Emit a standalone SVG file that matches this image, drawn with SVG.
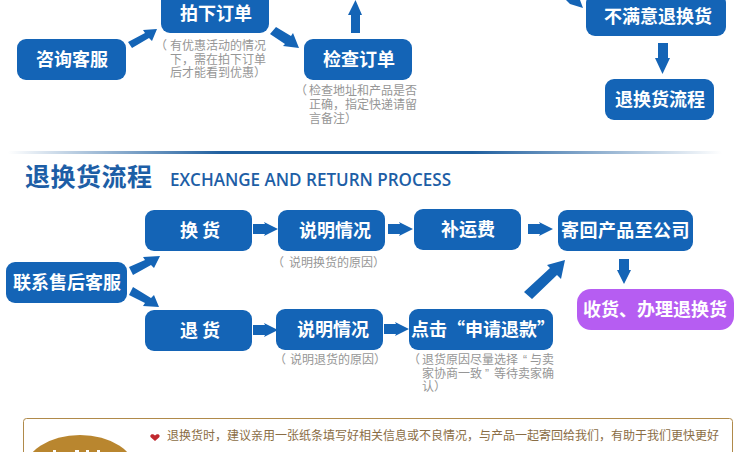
<svg xmlns="http://www.w3.org/2000/svg" width="750" height="452" viewBox="0 0 750 452">
<style>
.n{fill:#1464b6}
.t{font-family:"Noto Sans CJK SC","Liberation Sans",sans-serif;font-weight:700;font-size:18px;fill:#fff;text-anchor:middle}
.s{font-family:"Liberation Sans","Noto Sans CJK SC",sans-serif;font-size:12px;fill:#969696}
.a{fill:#1464b6}
</style>
<defs>
<linearGradient id="g" x1="0" x2="1" y1="0" y2="0">
<stop offset="0" stop-color="#1f5f9f" stop-opacity="0"/><stop offset=".3" stop-color="#1f5f9f"/><stop offset=".65" stop-color="#1f5f9f"/><stop offset="1" stop-color="#1f5f9f" stop-opacity="0"/>
</linearGradient>
<polygon id="ar" points="0,-5 12,-5 11,-7 25,0 11,7 12,5 0,5"/>
</defs>
<rect width="750" height="452" fill="#fff"/>
<rect x="8" y="151" width="714" height="3" fill="url(#g)"/>
<text x="25" y="186" font-family="Noto Sans CJK SC,sans-serif" font-weight="700" font-size="25" fill="#1d5ea6" textLength="127">退换货流程</text>
<text x="170" y="186" font-family="Open Sans,Liberation Sans,sans-serif" font-weight="600" font-size="18" fill="#1d5ea6" textLength="281" lengthAdjust="spacingAndGlyphs">EXCHANGE AND RETURN PROCESS</text>
<g id="connectors" class="a">
<polygon points="128,42 145,33 143,30 157,29 152,41 149,38 132,48"/>
<polygon points="270,34 285,44 283,46 299,48 293,33 291,36 276,27"/>
<polygon points="351,33 360,33 360,15 362,15 355.500,0 348,15 351,15"/>
<polygon points="566,0 580,0 583,8 570,4"/>
<polygon points="658,43 668,43 668,58 670,58 662.500,74 655,58 658,58"/>
<use href="#ar" x="253" y="229"/>
<use href="#ar" x="388" y="229"/>
<use href="#ar" x="528" y="229"/>
<polygon points="129,267 145,260 143,257 160,256 154,268 151,265 133,275"/>
<polygon points="129,295 145,303 143,306 159,307 154,295 151,298 133,287"/>
<use href="#ar" x="253" y="330"/>
<use href="#ar" x="384" y="329"/>
<polygon points="524,292 550,268 547,265 565,260 561,279 557,275 532,299"/>
<polygon points="619,259 629,259 629,270 631,270 624,284 617,270 619,270"/>
</g>
<g id="zixun"><rect class="n" x="17" y="39" width="109" height="41" rx="9"/><text class="t" x="72" y="66">咨询客服</text></g>
<g id="paixia"><rect class="n" x="161" y="-10" width="108" height="43" rx="9"/><text class="t" x="216" y="20">拍下订单</text></g>
<g id="jiancha"><rect class="n" x="304" y="39" width="108" height="41" rx="9"/><text class="t" x="359" y="66">检查订单</text></g>
<g id="bumanyi"><rect class="n" x="586" y="-6" width="140" height="42" rx="9"/><text class="t" x="658" y="23">不满意退换货</text></g>
<g id="liucheng1"><rect class="n" x="605" y="79" width="109" height="41" rx="9"/><text class="t" x="660" y="106">退换货流程</text></g>
<g id="lianxi"><rect class="n" x="6" y="262" width="121" height="41" rx="9"/><text class="t" x="67" y="289">联系售后客服</text></g>
<g id="huanhuo"><rect class="n" x="145" y="210" width="107" height="41" rx="9"/><text class="t" x="200" y="237" xml:space="preserve">换 货</text></g>
<g id="shuoming1"><rect class="n" x="278" y="210" width="107" height="41" rx="9"/><text class="t" x="335" y="237">说明情况</text></g>
<g id="buyunfei"><rect class="n" x="414" y="209" width="107" height="41" rx="9"/><text class="t" x="468" y="236">补运费</text></g>
<g id="jihui"><rect class="n" x="558" y="210" width="135" height="41" rx="9"/><text class="t" x="625.500" y="237" letter-spacing=".4">寄回产品至公司</text></g>
<g id="shouhuo"><rect x="577" y="289" width="157" height="41" rx="14" fill="#b65df2"/><text class="t" x="655" y="316">收货、办理退换货</text></g>
<g id="tuihuo"><rect class="n" x="145" y="310" width="107" height="41" rx="9"/><text class="t" x="200" y="337" xml:space="preserve">退 货</text></g>
<g id="shuoming2"><rect class="n" x="276" y="309" width="107" height="41" rx="9"/><text class="t" x="333" y="336">说明情况</text></g>
<g id="dianji"><rect class="n" x="409" y="309" width="144" height="41" rx="9"/><text class="t" x="483" y="336">点击“申请退款”</text></g>
<g id="notes">
<text class="s"><tspan x="155" y="50">（</tspan><tspan x="170" y="50">有优惠活动的情况</tspan><tspan x="170" y="63.500">下，需在拍下订单</tspan><tspan x="170" y="77">后才能看到优惠）</tspan></text>
<text class="s"><tspan x="295" y="95">（</tspan><tspan x="309" y="95">检查地址和产品是否</tspan><tspan x="309" y="109">正确，指定快递请留</tspan><tspan x="309" y="123">言备注）</tspan></text>
<text class="s"><tspan x="272" y="267">（</tspan><tspan x="289" y="267">说明换货的原因）</tspan></text>
<text class="s"><tspan x="274" y="364">（</tspan><tspan x="290" y="364">说明退货的原因）</tspan></text>
<text class="s"><tspan x="408" y="364">（</tspan><tspan x="422" y="364">退货原因尽量选择<tspan dx="5">“</tspan><tspan dx="3">与卖</tspan></tspan><tspan x="422" y="377.500">家协商一致<tspan dx="3">”</tspan><tspan dx="5">等待卖家确</tspan></tspan><tspan x="422" y="391">认）</tspan></text>
</g>
<g id="tip">
<rect x="23.500" y="418.500" width="709" height="50" rx="3" fill="#fff" stroke="#b08a4a"/>
<ellipse cx="80" cy="472" rx="56" ry="37" fill="#b9862f"/>
<path d="M53 450h3v2h-3zM75 450h4v2h-4zM86 450h3v2h-3zM97 450h3v2h-3z" fill="#fff"/>
<path d="M155 435.500c-3-3-6 0-4 2l4 3.500 4-3.500c2-2-1-5-4-2z" fill="#c0282e"/>
<text x="167" y="440" font-family="Noto Sans CJK SC,sans-serif" font-size="12" fill="#8a6d45">退换货时，建议亲用一张纸条填写好相关信息或不良情况，与产品一起寄回给我们，有助于我们更快更好</text>
</g>
</svg>
